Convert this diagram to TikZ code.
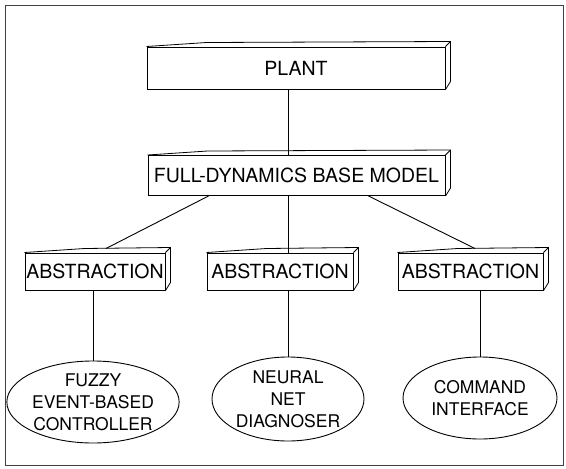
\documentclass[tikz,border=0pt]{standalone}
\usepackage{fontspec}
\setmainfont{TeX Gyre Heros}
\usetikzlibrary{shapes.geometric}
\newcommand\slabdraw[1]{%
  \draw[slabline] (#1.north west) -- ([shift={(60,-4)}]#1.north west) -- ([shift={(5,-5)}]#1.north east)
    -- ([shift={(5,-8)}]#1.south east) -- (#1.south east);
  \draw[slabline] (#1.north east) -- ([shift={(5,-5)}]#1.north east);}
\begin{document}
\begin{tikzpicture}[x=1pt,y=-1pt,
  slab/.style={draw,line width=1.0pt,rectangle,inner sep=0pt,font=\fontsize{19.5}{21}\selectfont},
  slabline/.style={line width=0.8pt,line join=round},
  oval/.style={draw,line width=0.9pt,ellipse,inner sep=0pt,align=center,font=\fontsize{17.5}{22}\selectfont},
  link/.style={line width=0.9pt}]
\useasboundingbox (0,0) rectangle (566,469);
\draw[line width=0.8pt,black!75] (5,5) rectangle (563,465);
\node[slab,minimum width=298pt,minimum height=42pt] (plant) at (296,68) {PLANT};
\node[slab,minimum width=297pt,minimum height=40pt] (full) at (296.5,175.5) {FULL-DYNAMICS BASE MODEL};
\node[slab,minimum width=140pt,minimum height=37pt] (absa) at (95,271.5) {ABSTRACTION};
\node[slab,minimum width=146pt,minimum height=37pt] (absb) at (280,271.5) {ABSTRACTION};
\node[slab,minimum width=145pt,minimum height=37pt] (absc) at (470.5,271.5) {ABSTRACTION};
\slabdraw{plant}\slabdraw{full}\slabdraw{absa}\slabdraw{absb}\slabdraw{absc}
\node[oval,minimum width=156pt,minimum height=82pt] (fuzzy) at (93,402) {FUZZY\\EVENT-BASED\\CONTROLLER};
\node[oval,minimum width=152pt,minimum height=84pt] (neural) at (288,399) {NEURAL\\NET\\DIAGNOSER};
\node[oval,minimum width=154pt,minimum height=82pt] (cmd) at (480,398) {COMMAND\\INTERFACE};
\draw[link] (plant.south -| neural.north) -- (full.north -| neural.north);
\draw[link] ([xshift=-88pt]full.south) -- ([shift={(11,-4)}]absa.north);
\draw[link] (full.south -| neural.north) -- (absb.north -| neural.north);
\draw[link] ([xshift=72pt]full.south) -- ([shift={(4.5,-4)}]absc.north);
\draw[link] (absa.south -| fuzzy.north) -- (fuzzy.north);
\draw[link] (absb.south -| neural.north) -- (neural.north);
\draw[link] (absc.south -| cmd.north) -- (cmd.north);
\end{tikzpicture}
\end{document}
